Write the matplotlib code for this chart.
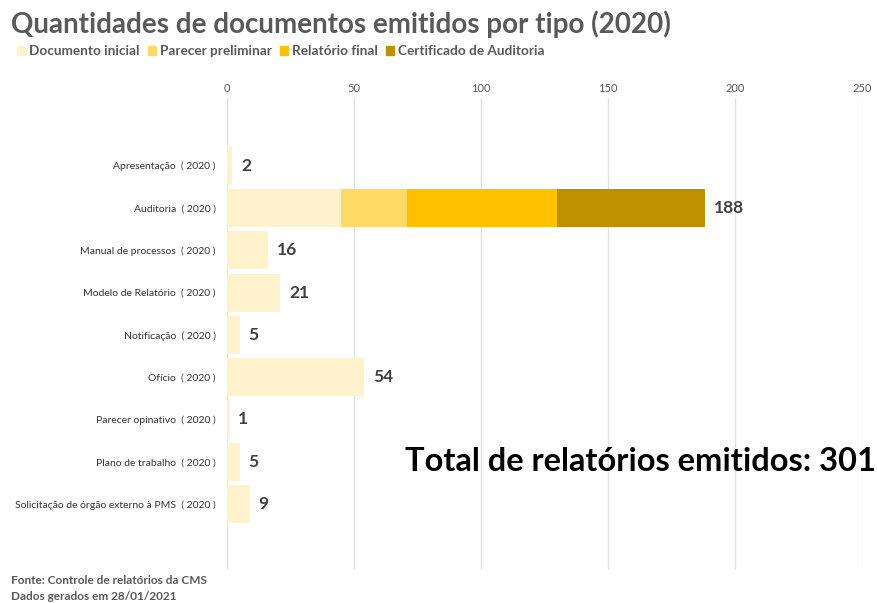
import numpy as np
import matplotlib
matplotlib.use("Agg")
import matplotlib.pyplot as plt
from matplotlib.patches import Patch

plt.rcParams['font.family'] = ['Lato', 'DejaVu Sans']

# categorias e valores (2020)
categorias = ["Apresentação  ( 2020 )", "Auditoria  ( 2020 )", "Manual de processos  ( 2020 )",
              "Modelo de Relatório  ( 2020 )", "Notificação  ( 2020 )", "Ofício  ( 2020 )",
              "Parecer opinativo  ( 2020 )", "Plano de trabalho  ( 2020 )",
              "Solicitação de órgão externo à PMS  ( 2020 )"]
doc_inicial = [2, 45, 16, 21, 5, 54, 1, 5, 9]
parecer_prel = [0, 26, 0, 0, 0, 0, 0, 0, 0]
relatorio_final = [0, 59, 0, 0, 0, 0, 0, 0, 0]
certificado = [0, 58, 0, 0, 0, 0, 0, 0, 0]
series_nomes = ["Documento inicial", "Parecer preliminar", "Relatório final", "Certificado de Auditoria"]
cores = ["#FFF2CC", "#FFD966", "#FFC000", "#BF9000"]
xticks = [0, 50, 100, 150, 200, 250]

fig = plt.figure(figsize=(8.78, 6.03), dpi=100)
ax = fig.add_axes([0.2585, 0.0547, 0.7233, 0.7828])

y = np.arange(len(categorias))
left = np.zeros(len(categorias))
for vals, nome, cor in zip([doc_inicial, parecer_prel, relatorio_final, certificado], series_nomes, cores):
    vals = np.array(vals)
    ax.barh(y, vals, left=left, height=0.9, color=cor, label=nome, zorder=3)
    left = left + vals

# rotulos de total
for yi, tot in zip(y, left):
    ax.text(tot + 3.5, yi, str(int(tot)), va='center', ha='left', fontsize=12.5,
            fontweight='bold', color='#404040')

ax.set_xlim(0, 250)
ax.set_ylim(len(categorias) - 1 + 1.56, -1.6)
ax.set_yticks(y)
ax.set_yticklabels(categorias, fontsize=7.5, color='#333333')
ax.set_xticks(xticks)
ax.xaxis.tick_top()
ax.tick_params(axis='x', labelsize=8, colors='#595959', length=0, pad=3)
ax.tick_params(axis='y', length=0, pad=8)
ax.grid(axis='x', color='#E3E3E3', linewidth=1, zorder=0)
for s in ax.spines.values():
    s.set_visible(False)

fig.text(0.012, 0.96, "Quantidades de documentos emitidos por tipo (2020)", fontsize=20,
         fontweight='bold', color='#595959', va='center', ha='left')

handles = [Patch(color=c, label=n) for c, n in zip(cores, series_nomes)]
leg = fig.legend(handles=handles, loc='center left', bbox_to_anchor=(0.005, 0.915), ncol=4,
                 frameon=False, handlelength=0.6, handleheight=0.6, handletextpad=0.3,
                 columnspacing=0.6, prop={'size': 9.8, 'weight': 'bold'})
for t in leg.get_texts():
    t.set_color('#595959')

fig.text(0.998, 0.235, "Total de relatórios emitidos: 301", fontsize=23.5, fontweight='bold',
         color='black', ha='right', va='center')

fig.text(0.013, 0.037, "Fonte: Controle de relatórios da CMS", fontsize=8.5, fontweight='bold',
         color='#595959', va='center')
fig.text(0.013, 0.011, "Dados gerados em 28/01/2021", fontsize=8.5, fontweight='bold',
         color='#595959', va='center')

fig.savefig("out.png", dpi=100)
